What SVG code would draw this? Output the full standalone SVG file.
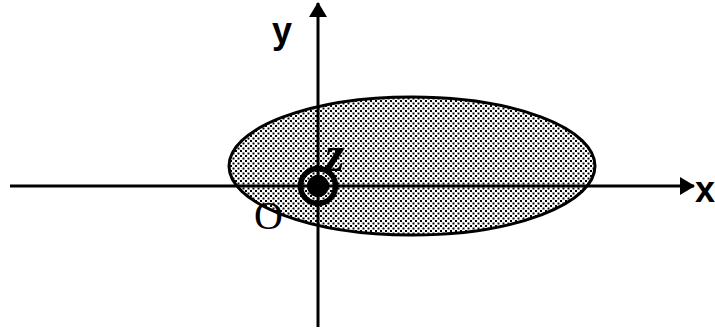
<svg xmlns="http://www.w3.org/2000/svg" width="715" height="329" viewBox="0 0 715 329">
<defs>
<pattern id="dots" width="5" height="5" patternUnits="userSpaceOnUse">
<rect x="0" y="0" width="2" height="2" fill="#000"/>
<rect x="2.5" y="2.5" width="2" height="2" fill="#000"/>
</pattern>
<marker id="arr" markerWidth="16" markerHeight="18" refX="14" refY="9" orient="auto" markerUnits="userSpaceOnUse">
<path d="M0,0 L15,9 L0,18 Z" fill="#000"/>
</marker>
</defs>
<style>
.axis{stroke:#000;stroke-width:3;fill:none}
.lab{font-family:"Liberation Sans",Arial,sans-serif;font-weight:bold;font-size:36px;fill:#000}
.ser{font-family:"Liberation Serif","Times New Roman",serif;fill:#000}
</style>
<rect width="715" height="329" fill="#fff"/>
<g id="region">
<ellipse cx="412" cy="166" rx="183" ry="69" fill="#fff"/>
<ellipse cx="412" cy="166" rx="183" ry="69" fill="url(#dots)" stroke="#000" stroke-width="3"/>
</g>
<g id="connectors">
<line class="axis" x1="10" y1="186" x2="694" y2="186" marker-end="url(#arr)"/>
<line class="axis" x1="318" y1="327" x2="318" y2="3" marker-end="url(#arr)"/>
</g>
<g id="source">
<circle cx="318" cy="186" r="17.5" fill="none" stroke="#000" stroke-width="5.5"/>
<circle cx="318" cy="186" r="11" fill="#000"/>
</g>
<g id="labels">
<text class="lab" x="272" y="43">y</text>
<text class="lab" x="695" y="202" font-size="34">x</text>
<text class="ser" x="254" y="229" font-size="40">O</text>
<text class="ser" x="325" y="171" font-size="50" font-style="italic" font-weight="bold">z</text>
</g>
</svg>
